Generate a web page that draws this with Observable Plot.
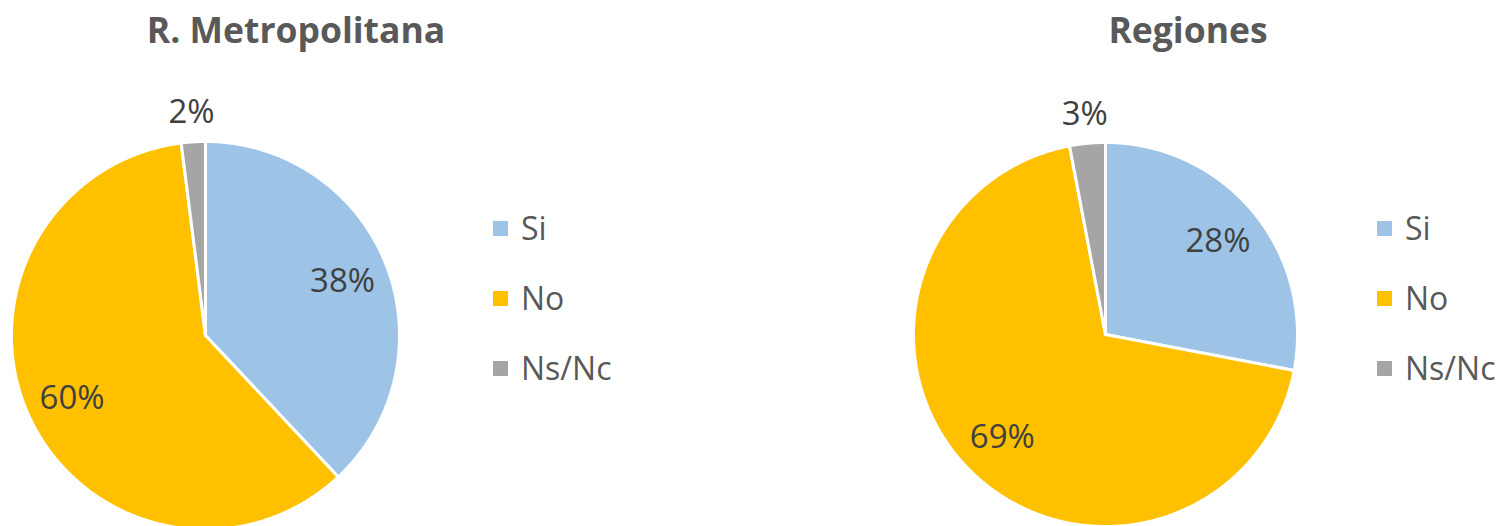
<!DOCTYPE html>
<html>
<head>
<meta charset="utf-8">
<script src="https://cdn.jsdelivr.net/npm/d3@7"></script>
<script src="https://cdn.jsdelivr.net/npm/@observablehq/plot@0.6"></script>
<style>
  body { margin: 0; background: #fff; }
  #chart { position: relative; width: 1499px; height: 526px; overflow: hidden; }
  .panel { position: absolute; top: 0; }
  .title { position: absolute; font-family: "Open Sans", sans-serif; font-weight: 700; font-size: 35.5px;
           color: #595959; transform: translate(-50%, -50%); white-space: nowrap; line-height: 1; }
  .legend { position: absolute; font-family: "Open Sans", sans-serif; font-size: 32px; color: #595959; }
  .legend .row { position: absolute; left: 0; display: flex; align-items: center; white-space: nowrap; transform: translateY(-50%); line-height: 1; }
  .legend .sw { width: 15px; height: 15px; margin-right: 13px; }
</style>
</head>
<body>
<div id="chart"></div>
<script>
// ---- data ----
const categories = ["Si", "No", "Ns/Nc"];
const metropolitana = [38, 60, 2];
const regiones = [28, 69, 3];
const panelTitles = ["R. Metropolitana", "Regiones"];
const sliceColors = ["#9DC3E6", "#FFC000", "#A5A5A5"];

// ---- layout ----
const panels = [
  {values: metropolitana, title: panelTitles[0], left: 0,   width: 750, cx: 205, cy: 335, r: 194, titleX: 296, legendX: 493},
  {values: regiones,      title: panelTitles[1], left: 750, width: 749, cx: 355, cy: 334, r: 192, titleX: 1188, legendX: 1377}
];

function sliceRows(values) {
  const total = d3.sum(values);
  const rows = [];
  const labels = [];
  let a0 = 0;
  values.forEach((v, i) => {
    const cat = categories[i];
    const a1 = a0 + (v / total) * 2 * Math.PI;
    const n = Math.max(2, Math.ceil((a1 - a0) / (Math.PI / 360)));
    rows.push({cat, x: 0, y: 0});
    for (let k = 0; k <= n; k++) {
      const a = a0 + (a1 - a0) * k / n;
      rows.push({cat, x: Math.sin(a), y: Math.cos(a)});
    }
    rows.push({cat, x: 0, y: 0});
    const am = (a0 + a1) / 2;
    const rf = v / total < 0.05 ? 1.15 : 0.76;
    labels.push({cat, x: rf * Math.sin(am), y: rf * Math.cos(am), text: Math.round(v / total * 100) + "%"});
    a0 = a1;
  });
  return {rows, labels};
}

const chart = document.getElementById("chart");

panels.forEach(p => {
  const {rows, labels} = sliceRows(p.values);
  const plot = Plot.plot({
    width: p.width,
    height: 526,
    margin: 0,
    x: {domain: [-1, 1], range: [p.cx - p.r, p.cx + p.r], axis: null},
    y: {domain: [-1, 1], range: [p.cy + p.r, p.cy - p.r], axis: null},
    color: {domain: categories, range: sliceColors},
    style: {background: "transparent", overflow: "visible"},
    marks: [
      Plot.line(rows, {x: "x", y: "y", z: "cat", fill: "cat", stroke: "white", strokeWidth: 3, strokeLinejoin: "miter"}),
      Plot.text(labels, {x: "x", y: "y", text: "text", fontSize: 33, fill: "#404040", fontFamily: "Open Sans"})
    ]
  });
  const panel = document.createElement("div");
  panel.className = "panel";
  panel.style.left = p.left + "px";
  panel.appendChild(plot);
  chart.appendChild(panel);

  const t = document.createElement("div");
  t.className = "title";
  t.textContent = p.title;
  t.style.left = p.titleX + "px";
  t.style.top = "30px";
  chart.appendChild(t);

  const color = plot.scale("color");
  const lg = document.createElement("div");
  lg.className = "legend";
  lg.style.left = p.legendX + "px";
  lg.style.top = "0px";
  categories.forEach((c, i) => {
    const row = document.createElement("div");
    row.className = "row";
    row.style.top = (228 + i * 70) + "px";
    const sw = document.createElement("span");
    sw.className = "sw";
    sw.style.background = color.apply(c);
    const tx = document.createElement("span");
    tx.textContent = c;
    row.appendChild(sw);
    row.appendChild(tx);
    lg.appendChild(row);
  });
  chart.appendChild(lg);
});
</script>
</body>
</html>
